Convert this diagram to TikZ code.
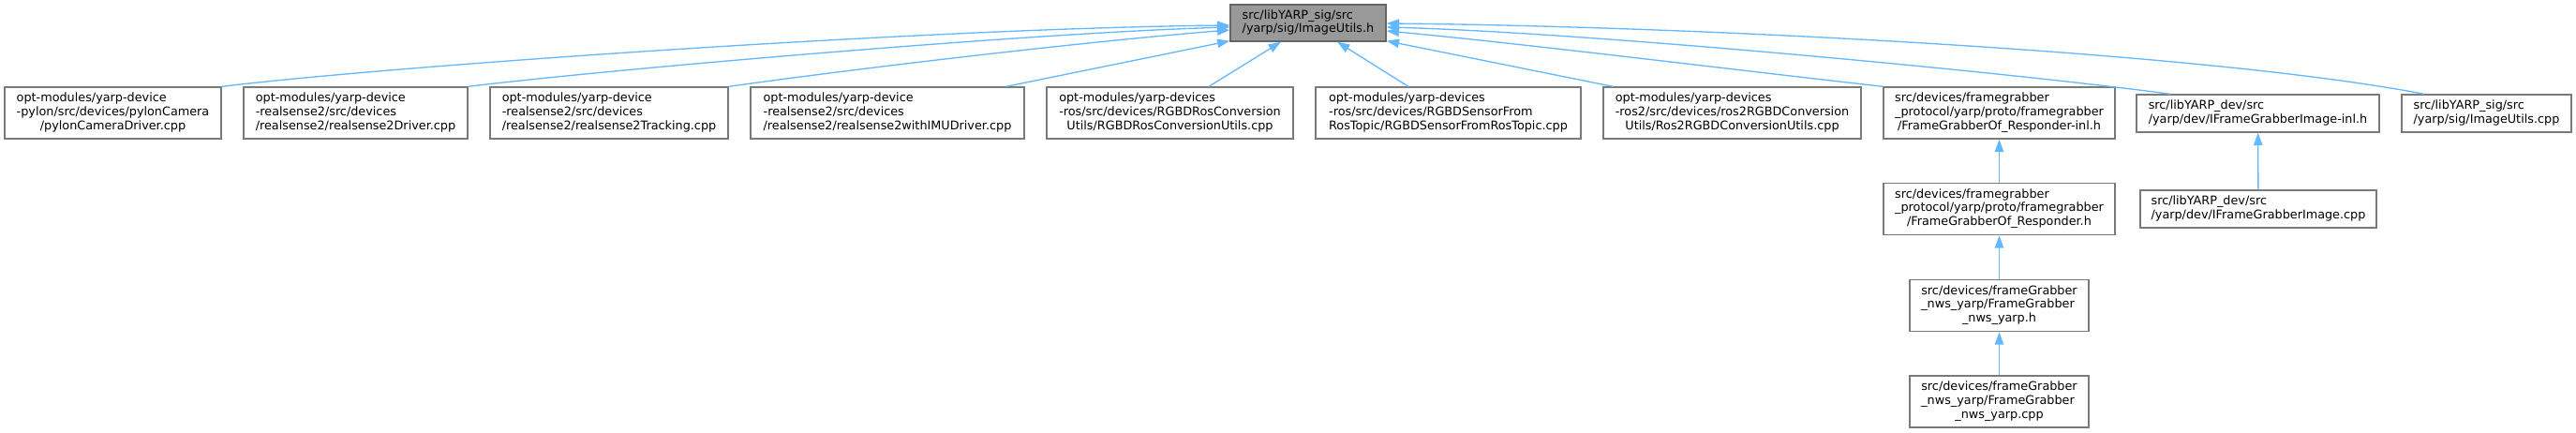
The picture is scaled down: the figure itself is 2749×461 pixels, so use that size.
\documentclass[tikz,border=0pt]{standalone}
\usepackage{fontspec}
\setmainfont{DejaVu Sans}
\usetikzlibrary{arrows.meta,calc}
\definecolor{edgeblue}{HTML}{63B8FF}
\definecolor{boxline}{HTML}{7A7A7A}
\definecolor{rootfill}{HTML}{999999}
\definecolor{rootline}{HTML}{666666}
\newcommand\lns[2]{\begin{tabular}{@{}l@{}}#1\\\multicolumn{1}{@{}c@{}}{#2}\end{tabular}}
\tikzset{
  filebox/.style={draw=boxline, line width=1pt, fill=white, inner sep=0pt,
    font=\fontsize{9.6}{11}\selectfont},
  rootbox/.style={filebox, draw=rootline, fill=rootfill},
  dim/.style 2 args={minimum width=#1*0.75pt, minimum height=#2*0.75pt},
  dep/.style={draw=edgeblue, line width=1pt, -{Triangle[length=10pt,width=7pt,fill=edgeblue]}},
}
\begin{document}
\begin{tikzpicture}[x=0.75pt,y=-0.75pt]
\useasboundingbox (0,0) rectangle (2749,461);
% nodes
\node[rootbox, dim={166}{39}] (main) at (1396,24.5) {\lns{src/libYARP\_sig/src}{/yarp/sig/ImageUtils.h}};
\node[filebox, dim={231}{55}] (n1) at (120.5,120.5) {\lns{opt-modules/yarp-device\\-pylon/src/devices/pylonCamera}{/pylonCameraDriver.cpp}};
\node[filebox, dim={239}{55}] (n2) at (379.5,120.5) {\lns{opt-modules/yarp-device\\-realsense2/src/devices}{/realsense2/realsense2Driver.cpp}};
\node[filebox, dim={254}{55}] (n3) at (650,120.5) {\lns{opt-modules/yarp-device\\-realsense2/src/devices}{/realsense2/realsense2Tracking.cpp}};
\node[filebox, dim={292}{55}] (n4) at (947,120.5) {\lns{opt-modules/yarp-device\\-realsense2/src/devices}{/realsense2/realsense2withIMUDriver.cpp}};
\node[filebox, dim={263}{55}] (n5) at (1248.5,120.5) {\lns{opt-modules/yarp-devices\\-ros/src/devices/RGBDRosConversion}{Utils/RGBDRosConversionUtils.cpp}};
\node[filebox, dim={283}{55}] (n6) at (1545.5,120.5) {\lns{opt-modules/yarp-devices\\-ros/src/devices/RGBDSensorFrom}{RosTopic/RGBDSensorFromRosTopic.cpp}};
\node[filebox, dim={275}{55}] (n7) at (1848.5,120.5) {\lns{opt-modules/yarp-devices\\-ros2/src/devices/ros2RGBDConversion}{Utils/Ros2RGBDConversionUtils.cpp}};
\node[filebox, dim={247}{55}] (n8) at (2133.5,120.5) {\lns{src/devices/framegrabber\\\_protocol/yarp/proto/framegrabber}{/FrameGrabberOf\_Responder-inl.h}};
\node[filebox, dim={259}{40}] (n9) at (2409.5,121) {\lns{src/libYARP\_dev/src}{/yarp/dev/IFrameGrabberImage-inl.h}};
\node[filebox, dim={181}{40}] (n10) at (2653.5,121) {\lns{src/libYARP\_sig/src}{/yarp/sig/ImageUtils.cpp}};
\node[filebox, dim={247}{55}] (n11) at (2133.5,223) {\lns{src/devices/framegrabber\\\_protocol/yarp/proto/framegrabber}{/FrameGrabberOf\_Responder.h}};
\node[filebox, dim={191}{55}] (n12) at (2133.5,326) {\lns{src/devices/frameGrabber\\\_nws\_yarp/FrameGrabber}{\_nws\_yarp.h}};
\node[filebox, dim={191}{55}] (n13) at (2133.5,428.5) {\lns{src/devices/frameGrabber\\\_nws\_yarp/FrameGrabber}{\_nws\_yarp.cpp}};
\node[filebox, dim={252}{40}] (n14) at (2410,223) {\lns{src/libYARP\_dev/src}{/yarp/dev/IFrameGrabberImage.cpp}};
% edges
\draw[dep] (n1.north east) .. controls (420,70) and (1000,30) .. ($(main.west)+(0,2.5)$);
\draw[dep] (n2.north east) .. controls (640,75) and (1100,35) .. ($(main.west)+(0,4.5)$);
\draw[dep] (n3.north east) .. controls (900,75) and (1150,45) .. ($(main.west)+(0,7.5)$);
\draw[dep] ($(n4.north east)+(-20,0)$) -- ($(main.south west)+(0,-1)$);
\draw[dep] ($(n5.north)+(41.5,0)$) -- ($(main.south)+(-29,0)$);
\draw[dep] ($(n6.north)+(-42.5,0)$) -- ($(main.south)+(31,0)$);
\draw[dep] ($(n7.north west)+(11,0)$) -- ($(main.south east)+(0,-1)$);
\draw[dep] (n8.north west) .. controls (1830,72) and (1620,46) .. ($(main.east)+(0,8.5)$);
\draw[dep] ($(n9.north)+(-93.5,0)$) .. controls (2150,78) and (1700,35) .. ($(main.east)+(0,4.5)$);
\draw[dep] ($(n10.north)+(-66.5,0)$) .. controls (2350,55) and (1800,28) .. ($(main.east)+(0,0.5)$);
\draw[dep] (n11) -- (n8);
\draw[dep] (n12) -- (n11);
\draw[dep] (n13) -- (n12);
\draw[dep] (n14) -- (n9);
\end{tikzpicture}
\end{document}
